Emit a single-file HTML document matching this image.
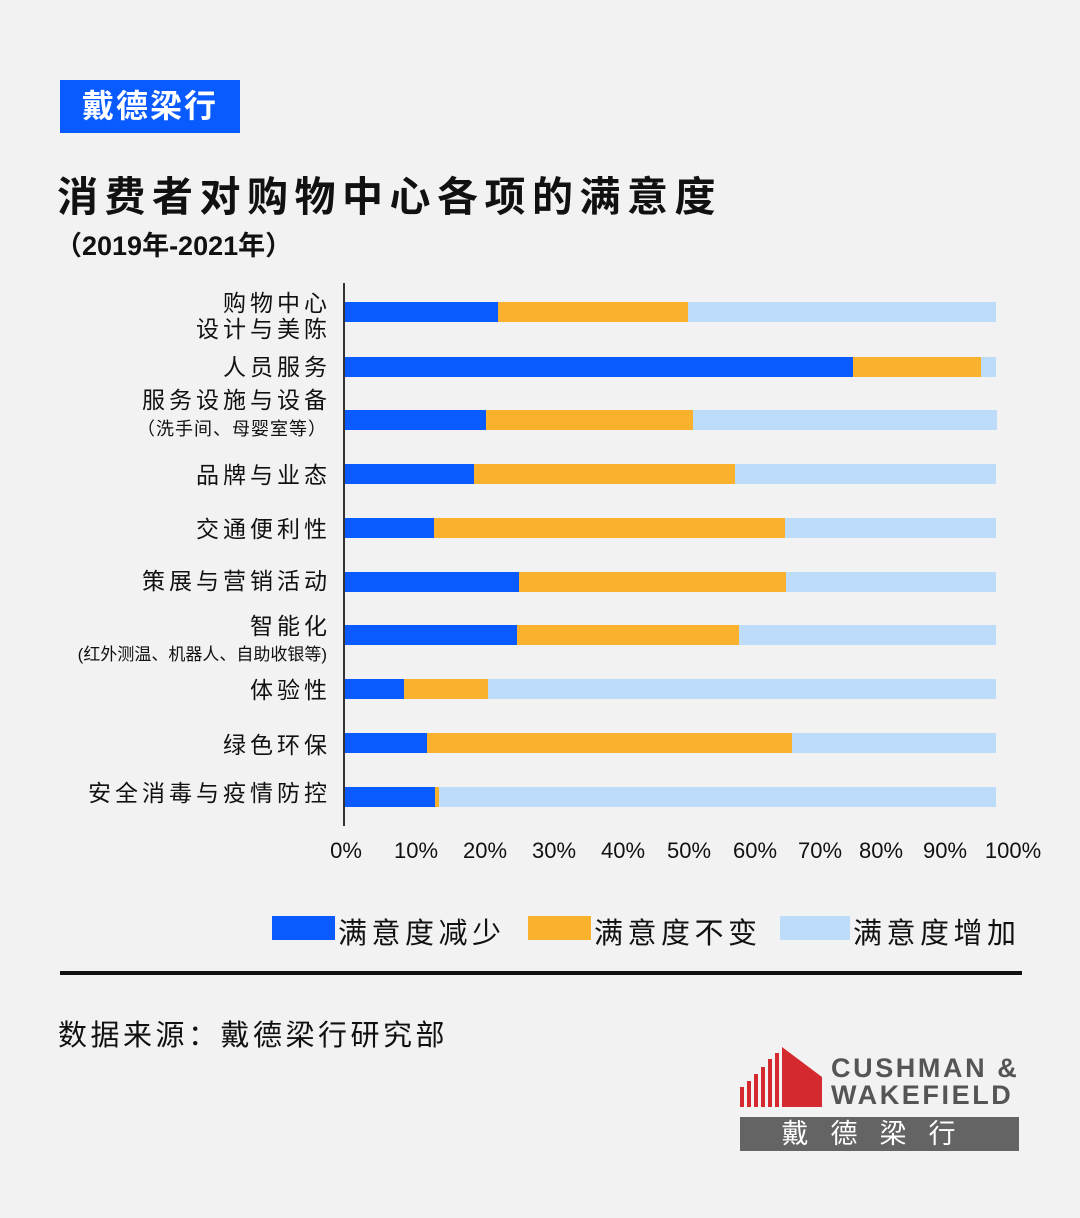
<!DOCTYPE html><html><head><meta charset="utf-8"><style>
body{margin:0;width:1080px;height:1218px;background:#f2f2f2;position:relative;overflow:hidden;font-family:"Liberation Sans","Noto Sans CJK SC",sans-serif;color:#111}
.a{position:absolute}
.b{position:absolute;height:20px}
.l{position:absolute;right:753px;text-align:right;font-size:23px;line-height:26px;letter-spacing:4px;margin-right:-4px;white-space:nowrap}
.t{position:absolute;top:838px;font-size:22px;transform:translateX(-50%)}
</style></head><body>
<div class="a" style="left:60px;top:80px;width:180px;height:53px;background:#0a5bff;color:#fff;font-size:32px;font-weight:bold;line-height:53px;text-align:center;letter-spacing:2px">戴德梁行</div>
<div class="a" style="left:57px;top:163px;font-size:41px;font-weight:bold;letter-spacing:6.5px">消费者对购物中心各项的满意度</div>
<div class="a" style="left:55px;top:224px;font-size:27px;font-weight:bold">（2019年-2021年）</div>
<div class="a" style="left:343px;top:283px;width:2px;height:543px;background:#333"></div>
<div id="bars"></div>
<div class="l" style="top:290px">购物中心<br>设计与美陈</div>
<div class="l" style="top:354px">人员服务</div>
<div class="l" style="top:387px">服务设施与设备</div>
<div class="l" style="top:416px;font-size:18px;letter-spacing:1px;margin-right:0">（洗手间、母婴室等）</div>
<div class="l" style="top:462px">品牌与业态</div>
<div class="l" style="top:516px">交通便利性</div>
<div class="l" style="top:568px">策展与营销活动</div>
<div class="l" style="top:613px">智能化</div>
<div class="l" style="top:642px;font-size:17px;letter-spacing:0;margin-right:0">(红外测温、机器人、自助收银等)</div>
<div class="l" style="top:677px">体验性</div>
<div class="l" style="top:732px">绿色环保</div>
<div class="l" style="top:780px">安全消毒与疫情防控</div>
<div class="t" style="left:346px">0%</div><div class="t" style="left:416px">10%</div><div class="t" style="left:485px">20%</div><div class="t" style="left:554px">30%</div><div class="t" style="left:623px">40%</div><div class="t" style="left:689px">50%</div><div class="t" style="left:755px">60%</div><div class="t" style="left:820px">70%</div><div class="t" style="left:881px">80%</div><div class="t" style="left:945px">90%</div><div class="t" style="left:1013px">100%</div>
<div class="a" style="left:272px;top:916px;width:63px;height:24px;background:#0a5bff"></div>
<div class="a" style="left:338px;top:910px;font-size:29px;letter-spacing:4.5px">满意度减少</div>
<div class="a" style="left:528px;top:916px;width:63px;height:24px;background:#f9b12e"></div>
<div class="a" style="left:594px;top:910px;font-size:29px;letter-spacing:4.5px">满意度不变</div>
<div class="a" style="left:780px;top:916px;width:70px;height:24px;background:#bcdcfa"></div>
<div class="a" style="left:853px;top:910px;font-size:29px;letter-spacing:4.5px">满意度增加</div>
<div class="a" style="left:60px;top:971px;width:962px;height:4px;background:#111"></div>
<div class="a" style="left:58px;top:1012px;font-size:29px;letter-spacing:3.5px">数据来源：戴德梁行研究部</div>
<svg class="a" style="left:740px;top:1047px" width="82" height="60"><g fill="#d42a2f"><rect x="0" y="40" width="4" height="20"/><rect x="7" y="34" width="4" height="26"/><rect x="14" y="27" width="4" height="33"/><rect x="21" y="20" width="4" height="40"/><rect x="28" y="12" width="4" height="48"/><rect x="35" y="6" width="4" height="54"/><polygon points="42,0 82,30 82,60 42,60"/></g></svg>
<div class="a" style="left:831px;top:1055px;font-size:27px;font-weight:bold;color:#555;line-height:27px;letter-spacing:2.6px">CUSHMAN &amp;<br>WAKEFIELD</div>
<div class="a" style="left:740px;top:1117px;width:279px;height:34px;background:#646464;color:#fff;font-size:27px;line-height:34px;text-align:center;letter-spacing:22px">戴德梁行</div>
<script>
var d=[[302,498,688,996],[357,853,981,996],[410,486,693,997],[464,474,735,996],[518,434,785,996],[572,519,786,996],[625,517,739,996],[679,404,488,996],[733,427,792,996],[787,435,439,996]];
var h='';d.forEach(function(r){h+='<div class="b" style="top:'+r[0]+'px;left:345px;width:'+(r[1]-345)+'px;background:#0a5bff"></div><div class="b" style="top:'+r[0]+'px;left:'+r[1]+'px;width:'+(r[2]-r[1])+'px;background:#f9b12e"></div><div class="b" style="top:'+r[0]+'px;left:'+r[2]+'px;width:'+(r[3]-r[2])+'px;background:#bcdcfa"></div>';});
document.getElementById('bars').innerHTML=h;
</script>
</body></html>
